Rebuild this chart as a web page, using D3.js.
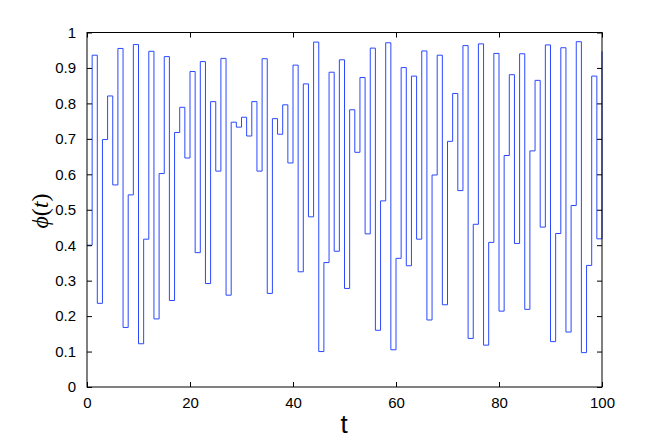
<!DOCTYPE html>
<html>
<head>
<meta charset="utf-8">
<script src="https://cdn.jsdelivr.net/npm/d3@7"></script>
<style>
  html, body { margin: 0; padding: 0; background: #fff; }
  svg { display: block; }
</style>
</head>
<body>
<svg id="chart" width="664" height="439"></svg>
<script>
// ---- data ----
const tStart = 0;
const phiValues = [
  0.400, 0.936, 0.236, 0.698, 0.821, 0.570, 0.955, 0.168, 0.542, 0.966,
  0.122, 0.417, 0.947, 0.192, 0.602, 0.932, 0.244, 0.718, 0.789, 0.646,
  0.890, 0.379, 0.918, 0.292, 0.805, 0.609, 0.927, 0.259, 0.747, 0.733,
  0.761, 0.708, 0.805, 0.609, 0.926, 0.264, 0.757, 0.713, 0.796, 0.632,
  0.908, 0.325, 0.855, 0.480, 0.973, 0.100, 0.351, 0.888, 0.383, 0.923,
  0.278, 0.782, 0.662, 0.873, 0.432, 0.956, 0.160, 0.525, 0.971, 0.105,
  0.363, 0.901, 0.342, 0.877, 0.417, 0.948, 0.189, 0.598, 0.936, 0.232,
  0.693, 0.828, 0.554, 0.963, 0.137, 0.459, 0.968, 0.118, 0.408, 0.941,
  0.214, 0.653, 0.881, 0.405, 0.940, 0.219, 0.666, 0.865, 0.451, 0.965,
  0.128, 0.433, 0.957, 0.155, 0.512, 0.974, 0.097, 0.343, 0.877, 0.418,
  0.947
];
const xTicks = [0, 20, 40, 60, 80, 100];
const yTicks = [0, 0.1, 0.2, 0.3, 0.4, 0.5, 0.6, 0.7, 0.8, 0.9, 1];
const yTickLabels = ["0", "0.1", "0.2", "0.3", "0.4", "0.5", "0.6", "0.7", "0.8", "0.9", "1"];
const xLabel = "t";

// ---- layout ----
const L = 87, R = 602, T = 32.5, B = 387;
const svg = d3.select("#chart");
const x = d3.scaleLinear().domain([0, 100]).range([L, R]);
const y = d3.scaleLinear().domain([0, 1]).range([B, T]);
const tickFont = "'Liberation Sans', Arial, Helvetica, sans-serif";

// step line
const pts = phiValues.map((v, i) => [tStart + i, v]);
const line = d3.line().x(d => x(d[0])).y(d => y(d[1])).curve(d3.curveStepAfter);
svg.append("path")
  .datum(pts)
  .attr("d", line)
  .attr("fill", "none")
  .attr("stroke", "#2a48ff")
  .attr("stroke-width", 1);

// axes with inward ticks on all sides
const axisStyle = g => {
  g.select(".domain").remove();
  g.selectAll("line").attr("stroke", "#000");
  g.selectAll("text").attr("font-family", tickFont).attr("font-size", 15).attr("fill", "#000");
};
svg.append("g").attr("transform", `translate(0,${B})`)
  .call(d3.axisBottom(x).tickValues(xTicks).tickSizeInner(-5).tickSizeOuter(0).tickPadding(10).tickFormat(d3.format("d")))
  .call(axisStyle);
svg.append("g").attr("transform", `translate(0,${T})`)
  .call(d3.axisTop(x).tickValues(xTicks).tickSizeInner(-5).tickSizeOuter(0).tickFormat(""))
  .call(axisStyle);
svg.append("g").attr("transform", `translate(${L},0)`)
  .call(d3.axisLeft(y).tickValues(yTicks).tickSizeInner(-5).tickSizeOuter(0).tickPadding(11)
    .tickFormat((d, i) => yTickLabels[i]))
  .call(axisStyle);
svg.append("g").attr("transform", `translate(${R},0)`)
  .call(d3.axisRight(y).tickValues(yTicks).tickSizeInner(-5).tickSizeOuter(0).tickFormat(""))
  .call(axisStyle);

// box
svg.append("rect")
  .attr("x", L).attr("y", T).attr("width", R - L).attr("height", B - T)
  .attr("fill", "none").attr("stroke", "#000").attr("stroke-width", 1);

// x label
svg.append("text")
  .attr("x", 344).attr("y", 433)
  .attr("text-anchor", "middle")
  .attr("font-family", tickFont)
  .attr("font-size", 26)
  .attr("fill", "#000")
  .text(xLabel);

// y label  ϕ(t)
const yl = svg.append("text")
  .attr("transform", "translate(48,211) rotate(-90)")
  .attr("text-anchor", "middle")
  .attr("font-family", "'Liberation Serif', 'Times New Roman', serif")
  .attr("font-size", 24)
  .attr("fill", "#000");
yl.append("tspan").attr("font-style", "italic").text("\u03D5");
yl.append("tspan").text("(");
yl.append("tspan").attr("font-style", "italic").text("t");
yl.append("tspan").text(")");
</script>
</body>
</html>
